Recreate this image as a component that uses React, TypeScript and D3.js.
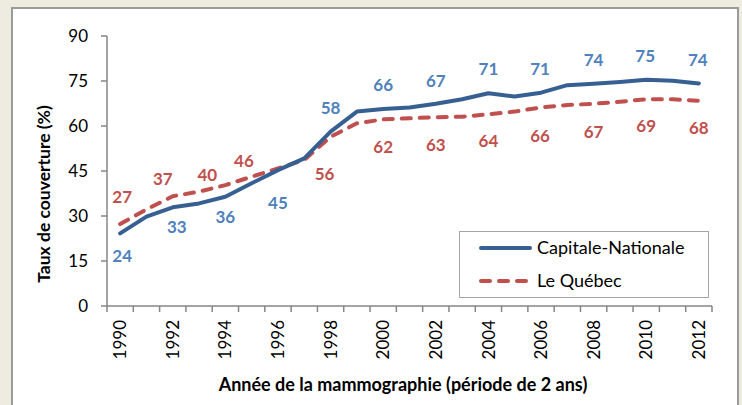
import React from "react";
import * as d3 from "d3";

const years = d3.range(1990, 2013).map(String);
const yTicks = [0, 15, 30, 45, 60, 75, 90];
const capitale = [24.2, 29.8, 32.9, 34.2, 36.4, 40.9, 45.3, 49.2, 58.1, 64.8, 65.7, 66.2, 67.4, 68.9, 70.9, 69.8, 71.1, 73.6, 74.1, 74.7, 75.4, 75.1, 74.2];
const quebec = [27.3, 32.2, 36.6, 38.1, 40.3, 43.1, 45.9, 48.7, 56.4, 60.9, 62.2, 62.6, 62.9, 63.1, 63.9, 64.8, 66.2, 67.0, 67.4, 68.1, 68.9, 68.9, 68.4];
const seriesNames = ["Capitale-Nationale", "Le Québec"];

// label placement offsets (style) for even years, [dx, dy] of label centre relative to point
const blueLabelOffsets: [number, number][] = [
  [2, 22], [4, 20], [0, 20], [0, 33], [0, -24], [0, -24], [0, -23], [0, -24], [-1, -24], [0, -24], [-1, -24], [-1, -24],
];
const redLabelOffsets: [number, number][] = [
  [2, -27], [-10, -17], [-18, -10], [-34, -7], [-6, 37], [0, 27], [0, 28], [0, 27], [-1, 28], [0, 28], [0, 27], [0, 27],
];

const W = 742, H = 405;
const m = { left: 107, right: 712, top: 36, bottom: 306 };
const FONT = "Lato, 'Open Sans', sans-serif";
const BLUE_LINE = "#376092";
const BLUE_TEXT = "#4F81BD";
const RED = "#C0504D";
const AXIS = "#868686";

export default function App() {
  const x = d3.scaleBand<string>().domain(years).range([m.left, m.right]).padding(0);
  const y = d3.scaleLinear().domain([0, 90]).range([m.bottom, m.top]);
  const cx = (yr: string) => (x(yr) as number) + x.bandwidth() / 2;
  const line = d3.line<number>().x((_, i) => cx(years[i])).y((d) => y(d));

  const evenIdx = years.map((_, i) => i).filter((i) => i % 2 === 0);

  return (
    <div style={{ position: "fixed", left: 0, top: 0, width: W, height: H }}>
      <svg width={W} height={H} style={{ display: "block", fontFamily: FONT }}>
        <rect x={0} y={0} width={W} height={H} fill="#EEECE1" />
        <rect x={12} y={8} width={726} height={410} fill="#FFFFFF" stroke="#9A9A9A" strokeWidth={2} />

        {/* Y axis */}
        <line x1={m.left} x2={m.left} y1={m.top} y2={m.bottom} stroke={AXIS} strokeWidth={1.5} />
        {yTicks.map((t) => (
          <g key={t}>
            <line x1={m.left - 6} x2={m.left} y1={y(t)} y2={y(t)} stroke={AXIS} strokeWidth={1.5} />
            <text x={88} y={y(t)} dy="0.36em" textAnchor="end" fontSize={17} fill="#000">
              {t}
            </text>
          </g>
        ))}

        {/* X axis */}
        <line x1={m.left} x2={m.right} y1={m.bottom} y2={m.bottom} stroke={AXIS} strokeWidth={1.5} />
        {[...years, "end"].map((yr, i) => {
          const xx = m.left + i * x.bandwidth();
          return <line key={yr} x1={xx} x2={xx} y1={m.bottom} y2={m.bottom + 6} stroke={AXIS} strokeWidth={1.5} />;
        })}
        {evenIdx.map((i) => (
          <text
            key={years[i]}
            transform={`translate(${cx(years[i])},320) rotate(-90)`}
            dy="0.36em"
            textAnchor="end"
            fontSize={17}
            fill="#000"
          >
            {years[i]}
          </text>
        ))}

        {/* Axis titles */}
        <text x={403} y={385} dy="0.36em" textAnchor="middle" fontSize={18} fontWeight="bold" fill="#000">
          Année de la mammographie (période de 2 ans)
        </text>
        <text transform="translate(44,194) rotate(-90)" dy="0.36em" textAnchor="middle" fontSize={17.5} fontWeight="bold" fill="#000">
          Taux de couverture (%)
        </text>

        {/* Lines */}
        <path d={line(quebec) || ""} fill="none" stroke={RED} strokeWidth={4} strokeDasharray="9,9" strokeLinecap="round" strokeLinejoin="round" />
        <path d={line(capitale) || ""} fill="none" stroke={BLUE_LINE} strokeWidth={4} strokeLinejoin="round" strokeLinecap="round" />

        {/* Data labels */}
        {evenIdx.map((i, k) => (
          <text
            key={"b" + i}
            x={cx(years[i]) + blueLabelOffsets[k][0]}
            y={y(capitale[i]) + blueLabelOffsets[k][1]}
            dy="0.36em"
            textAnchor="middle"
            fontSize={17}
            fontWeight="bold"
            fill={BLUE_TEXT}
          >
            {Math.round(capitale[i])}
          </text>
        ))}
        {evenIdx.map((i, k) => (
          <text
            key={"r" + i}
            x={cx(years[i]) + redLabelOffsets[k][0]}
            y={y(quebec[i]) + redLabelOffsets[k][1]}
            dy="0.36em"
            textAnchor="middle"
            fontSize={17}
            fontWeight="bold"
            fill={RED}
          >
            {Math.round(quebec[i])}
          </text>
        ))}

        {/* Legend */}
        <rect x={459.5} y={231.5} width={249} height={66} fill="#FFFFFF" stroke="#A6A6A6" strokeWidth={1} />
        <line x1={481} x2={530} y1={248} y2={248} stroke={BLUE_LINE} strokeWidth={4} strokeLinecap="round" />
        <text x={537} y={248} dy="0.36em" fontSize={18} fill="#000">
          {seriesNames[0]}
        </text>
        <line x1={481} x2={530} y1={281} y2={281} stroke={RED} strokeWidth={4} strokeDasharray="9,9" strokeLinecap="round" />
        <text x={537} y={281} dy="0.36em" fontSize={18} fill="#000">
          {seriesNames[1]}
        </text>
      </svg>
    </div>
  );
}
